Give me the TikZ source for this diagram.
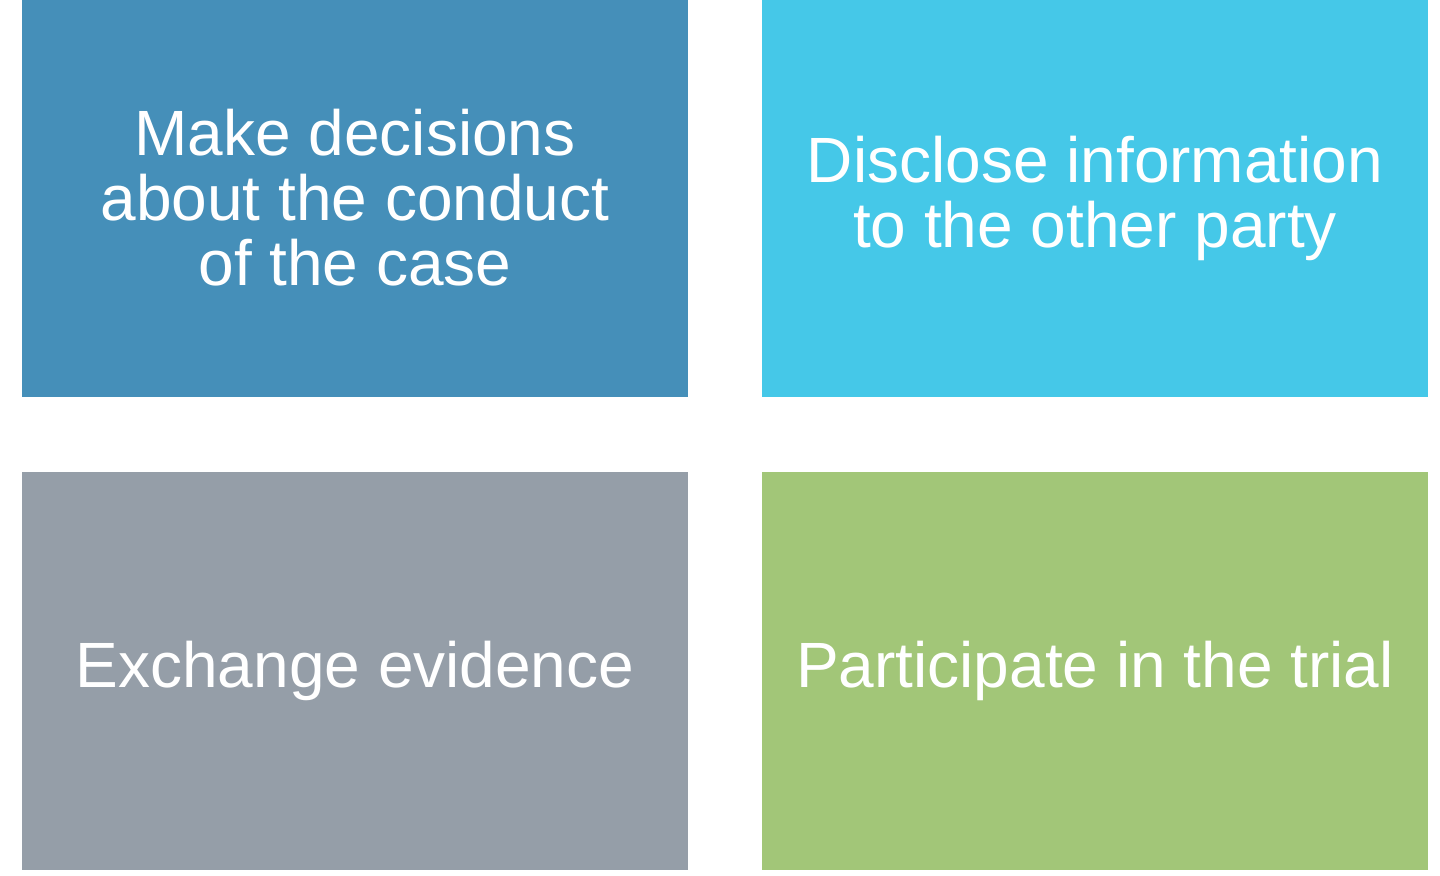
\documentclass[tikz,border=0pt]{standalone}
\usepackage{fontspec}
\setmainfont{Liberation Sans}
\definecolor{blueA}{HTML}{458FB9}
\definecolor{cyanA}{HTML}{45C8E8}
\definecolor{greyA}{HTML}{959EA8}
\definecolor{greenA}{HTML}{A2C678}
\tikzset{
  tile/.style={rectangle,minimum width=333pt,minimum height=199pt,inner sep=0pt,
    text=white,align=center,font=\fontsize{32}{32.5}\selectfont}
}
\begin{document}
\begin{tikzpicture}[x=0.5pt,y=0.5pt]
  \useasboundingbox (0,0) rectangle (1440,-875);
  % four tiles
  \node[tile,fill=blueA] (decide) at (355,-198) {Make decisions\\about the conduct\\of the case};
  \node[tile,fill=cyanA] (disclose) at (1095,-198) {Disclose information\\to the other party};
  \node[tile,fill=greyA] (exchange) at (355,-671) {Exchange evidence};
  \node[tile,fill=greenA] (trial) at (1095,-671) {Participate in the trial};
\end{tikzpicture}
\end{document}
